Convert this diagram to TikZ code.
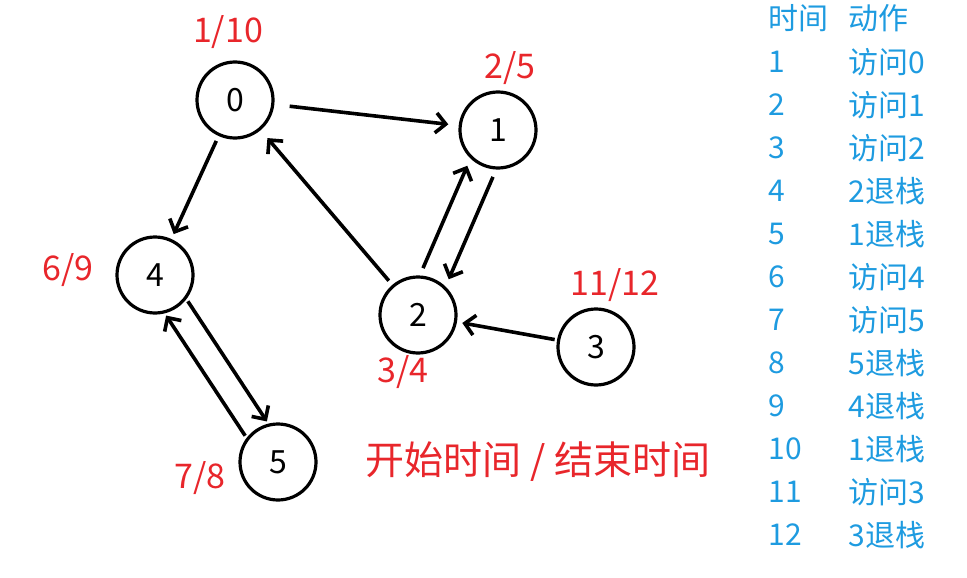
\documentclass[tikz,border=0pt]{standalone}
\usepackage{fontspec}
\setmainfont{Noto Sans CJK SC}
\usetikzlibrary{calc,arrows.meta}
\definecolor{rd}{HTML}{E8262B}
\definecolor{bl}{HTML}{1E9BE0}
\tikzset{
 v/.style={circle,draw,line width=3.2pt,minimum size=76pt,inner sep=0pt,font=\fontsize{32}{32}\selectfont},
 arr/.style={line width=3.6pt,-{Straight Barb[length=10pt,width=20pt,line width=3.6pt]}},
 lab/.style={text=rd,font=\fontsize{34}{34}\selectfont},
 tb/.style={text=bl,font=\fontsize{30}{30}\selectfont,anchor=west}
}
\begin{document}
\begin{tikzpicture}[x=1pt,y=-1pt]
\useasboundingbox (0,0) rectangle (967,578);
\node[v] (n0) at (235,100) {0};
\node[v] (n1) at (498,130) {1};
\node[v] (n2) at (418,315) {2};
\node[v] (n3) at (596,347) {3};
\node[v] (n4) at (155,275) {4};
\node[v] (n5) at (278,462) {5};
\draw[arr] ($(n0)!55pt!(n1)$) -- ($(n1)!50pt!(n0)$);
\draw[arr] ($(n0)!45pt!(n4)$) -- ($(n4)!45pt!(n0)$);
\draw[arr] ($(n2)!45pt!(n0)$) -- ($(n0)!50pt!(n2)$);
\draw[arr] ($(n3)!42pt!(n2)$) -- ($(n2)!45pt!(n3)$);
\draw[arr] ($(n2)!45pt!(n1)!14pt!90:(n1)$) -- ($(n1)!45pt!(n2)!14pt!-90:(n2)$);
\draw[arr] ($(n1)!45pt!(n2)!14pt!90:(n2)$) -- ($(n2)!45pt!(n1)!14pt!-90:(n1)$);
\draw[arr] ($(n4)!40pt!(n5)!13pt!90:(n5)$) -- ($(n5)!40pt!(n4)!13pt!-90:(n4)$);
\draw[arr] ($(n5)!40pt!(n4)!13pt!90:(n4)$) -- ($(n4)!40pt!(n5)!13pt!-90:(n5)$);
\node[lab] (l0) at (228,32) {1/10};
\node[lab] (l1) at (510,68) {2/5};
\node[lab] (l4) at (68,270) {6/9};
\node[lab] (l2) at (403,372) {3/4};
\node[lab] (l3) at (615,285) {11/12};
\node[lab] (l5) at (200,478) {7/8};
\node[lab,font=\fontsize{39}{39}\selectfont] (tt) at (538,462) {开始时间 / 结束时间};
\node[tb] (h1) at (765,18) {时间};
\node[tb] (h2) at (845,18) {动作};
\foreach \i/\a [count=\k] in {1/访问0,2/访问1,3/访问2,4/2退栈,5/1退栈,6/访问4,7/访问5,8/5退栈,9/4退栈,10/1退栈,11/访问3,12/3退栈}{
 \node[tb] (t\k) at (765,{19+43*\k}) {\i};
 \node[tb] (a\k) at (845,{19+43*\k}) {\a};
}
\end{tikzpicture}
\end{document}
